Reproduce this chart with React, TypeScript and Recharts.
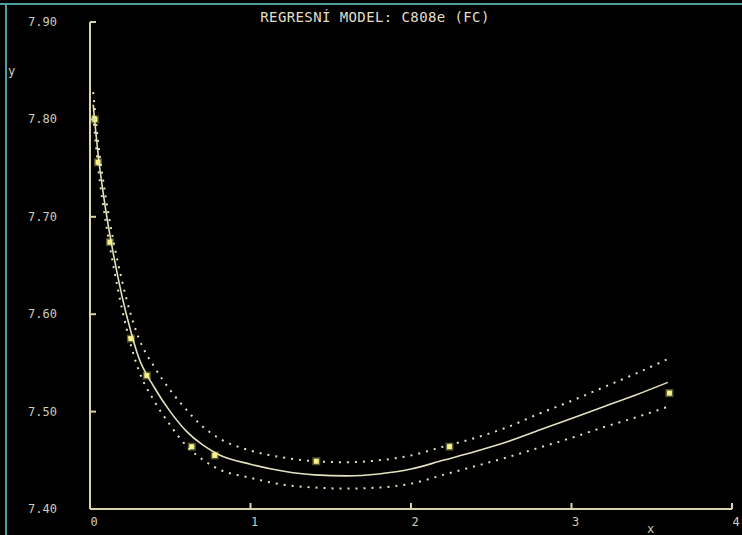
import React from 'react';
import { ComposedChart, Line, Scatter, XAxis, YAxis } from 'recharts';

const AXIS = '#d8d4a6';
const LABEL = '#cfcdb8';
const CURVE = '#e4e2be';
const POINT = '#f6f28a';

// fitted curve with its confidence band
const fitX = [0.02, 0.05, 0.1, 0.15, 0.2, 0.25, 0.3, 0.4, 0.5, 0.6, 0.7, 0.8, 1.0, 1.2, 1.4, 1.6, 1.8, 2.0, 2.2, 2.4, 2.6, 2.8, 3.0, 3.2, 3.4, 3.6];
const fitY = [7.815, 7.765, 7.705, 7.658, 7.618, 7.585, 7.557, 7.525, 7.5, 7.48, 7.466, 7.456, 7.446, 7.439, 7.435, 7.434, 7.436, 7.441, 7.45, 7.459, 7.469, 7.481, 7.493, 7.505, 7.517, 7.53];
const upperY = [7.828, 7.778, 7.718, 7.672, 7.634, 7.602, 7.577, 7.546, 7.522, 7.502, 7.485, 7.473, 7.46, 7.453, 7.449, 7.448, 7.45, 7.455, 7.464, 7.473, 7.484, 7.498, 7.511, 7.525, 7.539, 7.554];
const lowerY = [7.804, 7.752, 7.693, 7.646, 7.605, 7.571, 7.544, 7.511, 7.486, 7.465, 7.451, 7.441, 7.432, 7.425, 7.422, 7.421, 7.422, 7.426, 7.435, 7.444, 7.453, 7.463, 7.473, 7.484, 7.494, 7.505];

// measured points
const obsX = [0.03, 0.05, 0.124, 0.255, 0.354, 0.634, 0.777, 1.41, 2.24, 3.61];
const obsY = [7.8, 7.756, 7.674, 7.575, 7.537, 7.464, 7.455, 7.449, 7.464, 7.519];

const xTicks = [0, 1, 2, 3, 4];
const yTicks = [7.4, 7.5, 7.6, 7.7, 7.8, 7.9];

const fitData = fitX.map((x, i) => ({ x, y: fitY[i] }));
const upperData = fitX.map((x, i) => ({ x, y: upperY[i] }));
const lowerData = fitX.map((x, i) => ({ x, y: lowerY[i] }));
const obsData = obsX.map((x, i) => ({ x, y: obsY[i] }));

const FONT = '"DejaVu Sans Mono", monospace';

const XTick = ({ x, y, payload }: any) => (
  <g>
    <line x1={x} y1={y} x2={x} y2={y - 6} stroke={AXIS} strokeWidth={2} />
    <text x={x + 4} y={y + 17} textAnchor="middle" fill={LABEL} fontSize={12} fontFamily={FONT}>
      {payload.value}
    </text>
  </g>
);

const YTick = ({ x, y, payload }: any) => (
  <g>
    <line x1={x} y1={y} x2={x + 6} y2={y} stroke={AXIS} strokeWidth={2} />
    <text x={x - 33} y={y + 4} textAnchor="end" fill={LABEL} fontSize={12} fontFamily={FONT}>
      {payload.value.toFixed(2)}
    </text>
  </g>
);

const Square = ({ cx, cy }: any) => (
  <g>
    <rect x={cx - 4} y={cy - 4} width={8} height={8} fill={POINT} opacity={0.35} />
    <rect x={cx - 2.5} y={cy - 2.5} width={5} height={5} fill={POINT} />
  </g>
);

export default function App() {
  return (
    <div style={{ position: 'fixed', left: 0, top: 0, width: 742, height: 535, background: '#000', overflow: 'hidden' }}>
      <div style={{ position: 'absolute', left: 0, top: 3, width: 742, height: 2, background: '#4e9fa2' }} />
      <div style={{ position: 'absolute', left: 5, top: 3, width: 2, height: 532, background: '#4e9fa2' }} />
      <ComposedChart width={742} height={535} margin={{ top: 22, right: 10, left: 30, bottom: 0 }}>
        <XAxis
          dataKey="x"
          type="number"
          domain={[0, 4]}
          ticks={xTicks}
          height={26}
          tickSize={0}
          tickMargin={0}
          tick={<XTick />}
          axisLine={{ stroke: AXIS, strokeWidth: 2 }}
          allowDataOverflow
        />
        <YAxis
          dataKey="y"
          type="number"
          domain={[7.4, 7.9]}
          ticks={yTicks}
          width={60}
          tickSize={0}
          tickMargin={0}
          tick={<YTick />}
          axisLine={{ stroke: AXIS, strokeWidth: 2 }}
          allowDataOverflow
        />
        <Line data={upperData} dataKey="y" type="monotone" stroke={CURVE} strokeWidth={2} strokeDasharray="2 6" dot={false} isAnimationActive={false} />
        <Line data={lowerData} dataKey="y" type="monotone" stroke={CURVE} strokeWidth={2} strokeDasharray="2 6" dot={false} isAnimationActive={false} />
        <Line data={fitData} dataKey="y" type="monotone" stroke={CURVE} strokeWidth={1.6} dot={false} isAnimationActive={false} />
        <Scatter data={obsData} dataKey="y" shape={<Square />} isAnimationActive={false} />
      </ComposedChart>
      <div style={{ position: 'absolute', left: 0, top: 9, width: 750, textAlign: 'center', color: '#e2dfc6', fontFamily: FONT, fontSize: 14, letterSpacing: 0.4 }}>
        REGRESNÍ MODEL: C808e (FC)
      </div>
      <div style={{ position: 'absolute', left: 8, top: 64, color: LABEL, fontFamily: FONT, fontSize: 12 }}>y</div>
      <div style={{ position: 'absolute', left: 647, top: 522, color: LABEL, fontFamily: FONT, fontSize: 12 }}>x</div>
    </div>
  );
}
